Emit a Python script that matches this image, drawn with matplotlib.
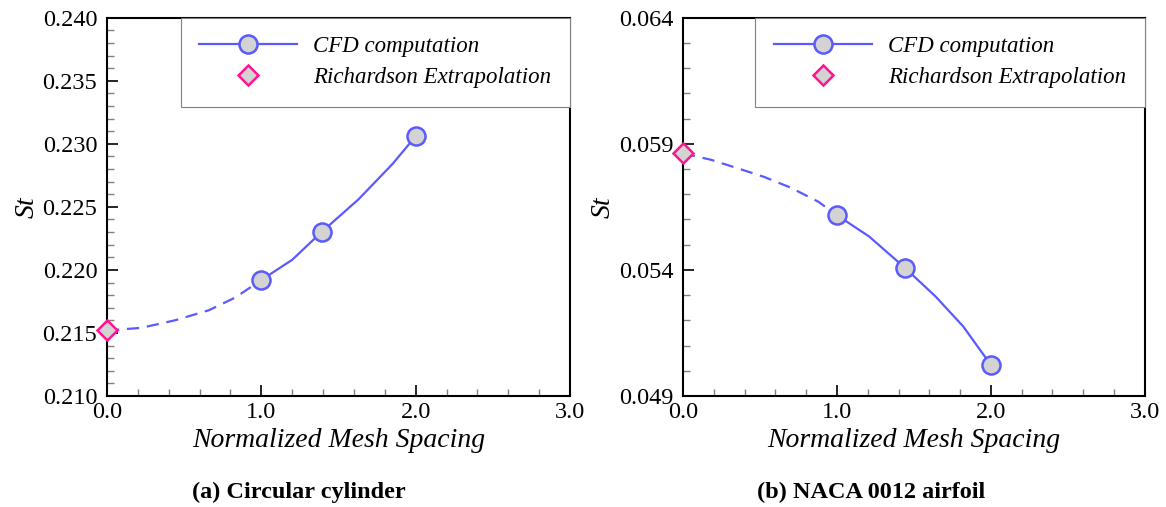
import matplotlib
matplotlib.use('Agg')
import matplotlib.pyplot as plt
from matplotlib.ticker import FixedLocator, FormatStrFormatter

plt.rcParams['font.family'] = ['Liberation Serif', 'DejaVu Serif']

# (a) circular cylinder
cyl_h = [1.0, 1.39, 2.0]
cyl_st = [0.2192, 0.2230, 0.2306]
cyl_rich_h = [0.0]
cyl_rich_st = [0.2152]
# extrapolated curve
cyl_dash_h = [0.0, 0.22, 0.44, 0.66, 0.83, 1.0]
cyl_dash_st = [0.2152, 0.2154, 0.2160, 0.2168, 0.2178, 0.2192]
cyl_fit_h = [1.0, 1.2, 1.39, 1.63, 1.85, 2.0]
cyl_fit_st = [0.2192, 0.2208, 0.2230, 0.2256, 0.2284, 0.2306]
cyl_yticks = [0.210, 0.215, 0.220, 0.225, 0.230, 0.235, 0.240]

# (b) NACA 0012 airfoil
naca_h = [1.0, 1.44, 2.0]
naca_st = [0.05617, 0.05409, 0.05023]
naca_rich_h = [0.0]
naca_rich_st = [0.05862]
naca_dash_h = [0.0, 0.18, 0.35, 0.53, 0.70, 0.88, 1.0]
naca_dash_st = [0.05862, 0.05837, 0.05804, 0.05768, 0.05726, 0.05670, 0.05617]
naca_fit_h = [1.0, 1.21, 1.44, 1.64, 1.82, 2.0]
naca_fit_st = [0.05617, 0.05532, 0.05409, 0.05295, 0.05176, 0.05023]
naca_yticks = [0.049, 0.054, 0.059, 0.064]

xticks = [0.0, 1.0, 2.0, 3.0]

line_col = '#5a5aff'
face_col = '#d3d3d3'
rich_col = '#ff1493'

fig = plt.figure(figsize=(11.66, 5.07), dpi=100)
ax1 = fig.add_axes([0.0918, 0.219, 0.397, 0.746])
ax2 = fig.add_axes([0.5858, 0.219, 0.396, 0.746])


def draw(ax, h, st, rh, rst, dh, dst, fh, fst, yticks):
    ax.plot(dh, dst, color=line_col, lw=1.6, ls=(0, (5.5, 3.5)))
    ax.plot(fh, fst, color=line_col, lw=1.6)
    ax.plot(h, st, ls='none', marker='o', ms=13, mfc=face_col, mec=line_col, mew=1.8)
    ax.plot(rh, rst, ls='none', marker='D', ms=10, mfc=face_col, mec=rich_col, mew=1.8,
            clip_on=False, zorder=5)

    # legend proxies
    cfd, = ax.plot([], [], color=line_col, lw=1.6, marker='o', ms=13,
                   mfc=face_col, mec=line_col, mew=1.8, label='CFD computation')
    rich, = ax.plot([], [], ls='none', marker='D', ms=10, mfc=face_col,
                    mec=rich_col, mew=1.8, label='Richardson Extrapolation')
    leg = ax.legend(handles=[cfd, rich], loc='upper right', bbox_to_anchor=(1.0, 1.0),
                    borderaxespad=0, fancybox=False, framealpha=1, edgecolor='#808080',
                    handlelength=4.3, handletextpad=0.7, borderpad=0.8, labelspacing=0.45,
                    prop={'style': 'italic', 'size': 16.5})
    leg.get_frame().set_linewidth(0.8)

    step = yticks[1] - yticks[0]
    ax.set_xlim(xticks[0], xticks[-1])
    ax.set_ylim(yticks[0], yticks[-1])
    ax.set_xticks(xticks)
    ax.set_yticks(yticks)
    ax.xaxis.set_minor_locator(FixedLocator(
        [xticks[0] + 0.2 * i for i in range(16)]))
    ax.yaxis.set_minor_locator(FixedLocator(
        [yticks[0] + step / 5 * i for i in range(5 * (len(yticks) - 1) + 1)]))
    ax.xaxis.set_major_formatter(FormatStrFormatter('%.1f'))
    ax.yaxis.set_major_formatter(FormatStrFormatter('%.3f'))
    ax.tick_params(which='both', direction='in', top=False, right=False, labelsize=17.5)
    ax.tick_params(which='major', length=8, width=1.2)
    ax.tick_params(axis='x', which='major', pad=4)
    ax.tick_params(axis='y', which='major', pad=7)
    ax.tick_params(which='minor', length=5, width=1.0, color='#808080')
    for s in ax.spines.values():
        s.set_linewidth(1.5)
    ax.set_xlabel('Normalized Mesh Spacing', fontsize=20, style='italic', labelpad=4)
    ax.set_ylabel('St', fontsize=20, style='italic', labelpad=2)


draw(ax1, cyl_h, cyl_st, cyl_rich_h, cyl_rich_st, cyl_dash_h, cyl_dash_st,
     cyl_fit_h, cyl_fit_st, cyl_yticks)
draw(ax2, naca_h, naca_st, naca_rich_h, naca_rich_st, naca_dash_h, naca_dash_st,
     naca_fit_h, naca_fit_st, naca_yticks)

fig.text(0.256, 0.018, '(a) Circular cylinder', ha='center', fontsize=17.5, weight='bold')
fig.text(0.747, 0.018, '(b) NACA 0012 airfoil', ha='center', fontsize=17.5, weight='bold')

fig.savefig('out.png', dpi=100)
